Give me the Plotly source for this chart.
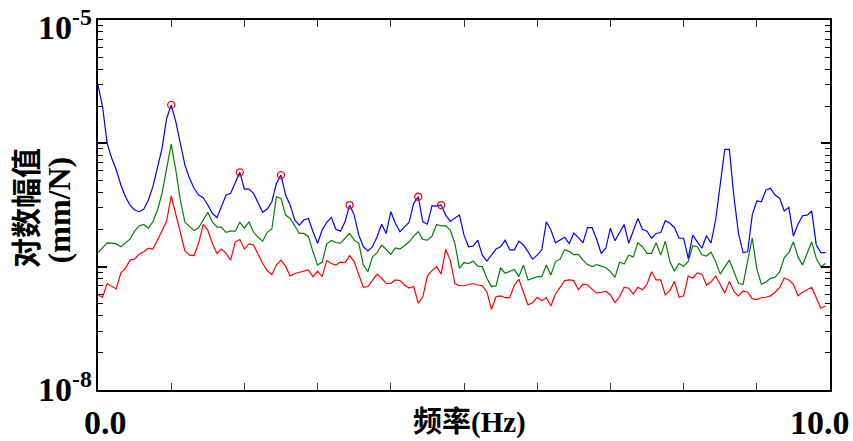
import plotly.graph_objects as go

# frequency grid (Hz), 0.0625 Hz spacing
freq = [i * 0.0625 for i in range(160)]

blue = [
    2.97e-6, 1.98e-6, 1.00e-6, 7.56e-7, 6.08e-7, 4.60e-7, 3.69e-7, 3.16e-7, 2.88e-7, 2.79e-7,
    2.92e-7, 3.47e-7, 4.45e-7, 6.46e-7, 9.11e-7, 1.59e-6, 2.05e-6, 1.50e-6, 1.03e-6, 6.67e-7,
    5.20e-7, 4.32e-7, 3.81e-7, 3.62e-7, 3.16e-7, 2.71e-7, 2.49e-7, 3.06e-7, 3.81e-7, 3.93e-7,
    4.74e-7, 5.82e-7, 4.26e-7, 4.26e-7, 3.93e-7, 3.26e-7, 2.76e-7, 2.93e-7, 3.36e-7, 4.74e-7,
    5.53e-7, 3.81e-7, 3.16e-7, 2.39e-7, 2.17e-7, 2.39e-7, 2.46e-7, 1.92e-7, 1.55e-7, 1.98e-7,
    2.29e-7, 2.51e-7, 2.01e-7, 1.94e-7, 2.31e-7, 3.16e-7, 2.62e-7, 1.80e-7, 1.45e-7, 1.34e-7,
    1.45e-7, 1.75e-7, 2.21e-7, 1.86e-7, 2.79e-7, 2.25e-7, 1.92e-7, 2.10e-7, 2.28e-7, 3.26e-7,
    3.69e-7, 2.31e-7, 2.21e-7, 3.12e-7, 3.10e-7, 3.16e-7, 2.62e-7, 2.34e-7, 2.46e-7, 2.62e-7,
    1.80e-7, 1.45e-7, 1.47e-7, 1.64e-7, 1.24e-7, 1.11e-7, 1.24e-7, 1.39e-7, 1.45e-7, 1.64e-7,
    1.37e-7, 1.37e-7, 1.61e-7, 1.50e-7, 1.32e-7, 1.15e-7, 1.24e-7, 1.37e-7, 2.31e-7, 1.98e-7,
    1.56e-7, 1.64e-7, 1.73e-7, 1.54e-7, 1.87e-7, 1.72e-7, 1.56e-7, 2.07e-7, 2.07e-7, 1.66e-7,
    1.28e-7, 1.41e-7, 2.05e-7, 1.62e-7, 1.90e-7, 2.20e-7, 1.55e-7, 1.98e-7, 2.46e-7, 2.01e-7,
    1.94e-7, 1.70e-7, 1.86e-7, 1.89e-7, 2.36e-7, 2.25e-7, 2.08e-7, 1.70e-7, 1.70e-7, 1.17e-7,
    1.80e-7, 1.59e-7, 1.41e-7, 1.78e-7, 1.56e-7, 2.39e-7, 4.74e-7, 8.94e-7, 8.94e-7, 3.69e-7,
    1.86e-7, 1.30e-7, 1.32e-7, 2.62e-7, 3.41e-7, 3.36e-7, 4.19e-7, 4.32e-7, 3.81e-7, 3.58e-7,
    2.83e-7, 3.03e-7, 1.77e-7, 2.21e-7, 2.59e-7, 2.62e-7, 2.83e-7, 1.50e-7, 1.30e-7, 1.30e-7,
]

green = [
    1.30e-7, 1.42e-7, 1.56e-7, 1.55e-7, 1.53e-7, 1.45e-7, 1.55e-7, 1.67e-7, 1.94e-7, 2.15e-7,
    2.20e-7, 2.05e-7, 2.31e-7, 2.88e-7, 3.93e-7, 6.08e-7, 9.87e-7, 6.08e-7, 3.47e-7, 2.29e-7,
    2.10e-7, 1.96e-7, 2.07e-7, 2.39e-7, 2.76e-7, 2.31e-7, 2.10e-7, 2.08e-7, 1.90e-7, 1.94e-7,
    1.94e-7, 2.29e-7, 2.05e-7, 2.31e-7, 1.90e-7, 1.73e-7, 1.61e-7, 1.90e-7, 2.02e-7, 3.69e-7,
    3.58e-7, 2.62e-7, 2.46e-7, 2.15e-7, 1.86e-7, 1.86e-7, 1.75e-7, 1.32e-7, 1.03e-7, 1.09e-7,
    1.53e-7, 1.63e-7, 1.57e-7, 1.55e-7, 1.70e-7, 1.86e-7, 1.64e-7, 1.55e-7, 1.03e-7, 9.11e-8,
    1.20e-7, 1.30e-7, 1.50e-7, 1.37e-7, 1.26e-7, 1.42e-7, 1.39e-7, 1.48e-7, 1.59e-7, 1.77e-7,
    1.92e-7, 1.66e-7, 1.64e-7, 1.77e-7, 2.20e-7, 2.14e-7, 2.14e-7, 1.98e-7, 1.55e-7, 9.70e-8,
    1.08e-7, 1.06e-7, 1.11e-7, 1.01e-7, 1.00e-7, 8.05e-8, 6.89e-8, 6.98e-8, 9.80e-8, 8.84e-8,
    9.11e-8, 9.50e-8, 8.30e-8, 1.03e-7, 7.80e-8, 8.05e-8, 8.30e-8, 8.30e-8, 1.03e-7, 8.57e-8,
    1.10e-7, 1.15e-7, 1.37e-7, 1.33e-7, 1.25e-7, 1.26e-7, 1.13e-7, 1.04e-7, 1.00e-7, 1.04e-7,
    1.01e-7, 9.80e-8, 9.11e-8, 8.20e-8, 1.09e-7, 1.05e-7, 1.24e-7, 1.20e-7, 1.56e-7, 1.45e-7,
    1.28e-7, 1.28e-7, 1.56e-7, 1.24e-7, 1.61e-7, 1.10e-7, 9.20e-8, 1.06e-7, 1.01e-7, 1.10e-7,
    1.48e-7, 1.45e-7, 1.25e-7, 1.22e-7, 1.31e-7, 1.10e-7, 8.70e-8, 1.00e-7, 1.13e-7, 9.10e-8,
    7.30e-8, 7.20e-8, 1.13e-7, 1.71e-7, 9.60e-8, 7.20e-8, 7.50e-8, 8.05e-8, 8.20e-8, 9.10e-8,
    1.18e-7, 1.30e-7, 1.59e-7, 1.20e-7, 1.03e-7, 1.28e-7, 1.59e-7, 1.17e-7, 1.00e-7, 1.06e-7,
]

red = [
    5.90e-8, 5.65e-8, 7.30e-8, 6.90e-8, 6.60e-8, 8.90e-8, 9.70e-8, 1.13e-7, 1.15e-7, 1.26e-7,
    1.32e-7, 1.41e-7, 1.39e-7, 1.64e-7, 1.98e-7, 2.34e-7, 3.74e-7, 2.62e-7, 1.92e-7, 1.34e-7,
    1.24e-7, 1.23e-7, 1.55e-7, 2.20e-7, 1.98e-7, 1.55e-7, 1.28e-7, 1.39e-7, 1.28e-7, 1.13e-7,
    1.59e-7, 1.66e-7, 1.39e-7, 1.53e-7, 1.50e-7, 1.25e-7, 1.06e-7, 9.30e-8, 8.60e-8, 1.03e-7,
    1.13e-7, 1.01e-7, 8.40e-8, 8.80e-8, 9.00e-8, 9.10e-8, 9.40e-8, 8.30e-8, 9.20e-8, 8.30e-8,
    1.12e-7, 1.06e-7, 1.03e-7, 1.09e-7, 1.08e-7, 1.23e-7, 1.10e-7, 8.60e-8, 6.80e-8, 6.90e-8,
    7.80e-8, 8.70e-8, 8.05e-8, 7.30e-8, 7.30e-8, 7.80e-8, 7.70e-8, 7.10e-8, 6.70e-8, 6.90e-8,
    5.05e-8, 5.70e-8, 8.40e-8, 9.30e-8, 1.00e-7, 8.70e-8, 1.38e-7, 1.13e-7, 7.30e-8, 7.00e-8,
    7.00e-8, 7.20e-8, 7.30e-8, 7.10e-8, 7.00e-8, 6.27e-8, 4.50e-8, 5.70e-8, 5.80e-8, 5.60e-8,
    5.60e-8, 7.10e-8, 7.90e-8, 6.20e-8, 4.90e-8, 5.10e-8, 5.65e-8, 5.30e-8, 5.60e-8, 4.80e-8,
    6.00e-8, 6.80e-8, 7.70e-8, 7.80e-8, 7.70e-8, 6.50e-8, 7.20e-8, 7.10e-8, 6.60e-8, 6.10e-8,
    6.20e-8, 6.30e-8, 5.90e-8, 5.10e-8, 5.70e-8, 6.80e-8, 6.70e-8, 6.00e-8, 6.80e-8, 6.50e-8,
    7.20e-8, 9.10e-8, 7.80e-8, 7.80e-8, 5.90e-8, 6.40e-8, 7.60e-8, 5.65e-8, 5.80e-8, 8.40e-8,
    8.10e-8, 8.90e-8, 8.70e-8, 7.10e-8, 7.50e-8, 8.40e-8, 7.20e-8, 6.10e-8, 7.60e-8, 6.30e-8,
    5.80e-8, 6.35e-8, 6.20e-8, 5.50e-8, 5.40e-8, 5.60e-8, 5.65e-8, 5.80e-8, 6.20e-8, 6.80e-8,
    8.10e-8, 7.80e-8, 7.20e-8, 5.80e-8, 6.20e-8, 6.50e-8, 6.80e-8, 5.60e-8, 4.60e-8, 4.80e-8,
]

# indices of the picked peaks on the blue curve
peak_idx = [16, 31, 40, 55, 70, 75]

y_ticks = [1e-8, 1e-7, 1e-6, 1e-5]
y_labels = ["10<sup>-8</sup>", "10<sup>-5</sup>"]
x_labels = ["0.0", "10.0"]

minor_vals = [k * 10.0 ** e for e in (-8, -7, -6) for k in range(2, 10)]

SERIF = "Liberation Serif, Times New Roman, Noto Sans CJK SC, serif"
TICKFONT = dict(family=SERIF, size=34, color="black")

fig = go.Figure()
fig.add_trace(go.Scatter(x=freq, y=red, mode="lines",
                         line=dict(color="#ff0000", width=1.2), showlegend=False))
fig.add_trace(go.Scatter(x=freq, y=green, mode="lines",
                         line=dict(color="#008000", width=1.2), showlegend=False))
fig.add_trace(go.Scatter(x=freq, y=blue, mode="lines",
                         line=dict(color="#0000ff", width=1.2), showlegend=False))
fig.add_trace(go.Scatter(x=[freq[i] for i in peak_idx], y=[blue[i] for i in peak_idx],
                         mode="markers",
                         marker=dict(symbol="circle-open", size=7, color="#ff0000",
                                     line=dict(width=1.3, color="#ff0000")),
                         showlegend=False))

fig.update_layout(
    width=853, height=441,
    margin=dict(l=98, r=23, t=20, b=51, autoexpand=False),
    paper_bgcolor="white", plot_bgcolor="white",
    font=dict(family=SERIF, color="black"),
    xaxis=dict(
        range=[0, 10], tickmode="linear", tick0=0, dtick=1,
        showticklabels=False, ticks="inside", ticklen=7, tickwidth=1.2,
        tickcolor="#333333", automargin=False,
        showline=True, linewidth=2, linecolor="black", mirror="ticks",
        showgrid=False, zeroline=False,
    ),
    yaxis=dict(
        type="log", range=[-8, -5],
        tickmode="array", tickvals=y_ticks, showticklabels=False,
        automargin=False,
        ticks="inside", ticklen=9, tickwidth=1.5, tickcolor="black",
        minor=dict(tickmode="array", tickvals=minor_vals, ticks="inside",
                   ticklen=5, tickwidth=1.2, tickcolor="black", showgrid=False),
        showline=True, linewidth=2, linecolor="black", mirror="ticks",
        showgrid=False, zeroline=False,
    ),
    annotations=[
        # y-axis end labels
        dict(x=0, y=-8, xref="paper", yref="y", text="<b>" + y_labels[0] + "</b>",
             showarrow=False, xanchor="right", yanchor="middle", xshift=-4, yshift=3,
             font=TICKFONT),
        dict(x=0, y=-5, xref="paper", yref="y", text="<b>" + y_labels[1] + "</b>",
             showarrow=False, xanchor="right", yanchor="middle", xshift=-4, yshift=-5,
             font=TICKFONT),
        # x-axis end labels
        dict(x=0, y=0, xref="x", yref="paper", text="<b>" + x_labels[0] + "</b>",
             showarrow=False, xanchor="center", yanchor="top", xshift=7, yshift=-12,
             font=TICKFONT),
        dict(x=10, y=0, xref="x", yref="paper", text="<b>" + x_labels[1] + "</b>",
             showarrow=False, xanchor="center", yanchor="top", xshift=-10, yshift=-12,
             font=TICKFONT),
        # axis titles
        dict(x=0.507, y=-0.089, xref="paper", yref="paper", text="<b>频率(Hz)</b>",
             showarrow=False, xanchor="center", yanchor="middle",
             font=dict(family=SERIF, size=29, color="black")),
        dict(x=-0.097, y=0.492, xref="paper", yref="paper", text="<b>对数幅值</b>",
             textangle=-90, showarrow=False, xanchor="center", yanchor="middle",
             font=dict(family=SERIF, size=30, color="black")),
        dict(x=-0.053, y=0.486, xref="paper", yref="paper", text="<b>(mm/N)</b>",
             textangle=-90, showarrow=False, xanchor="center", yanchor="middle",
             font=dict(family=SERIF, size=32, color="black")),
    ],
)

fig.write_html("out.html")
